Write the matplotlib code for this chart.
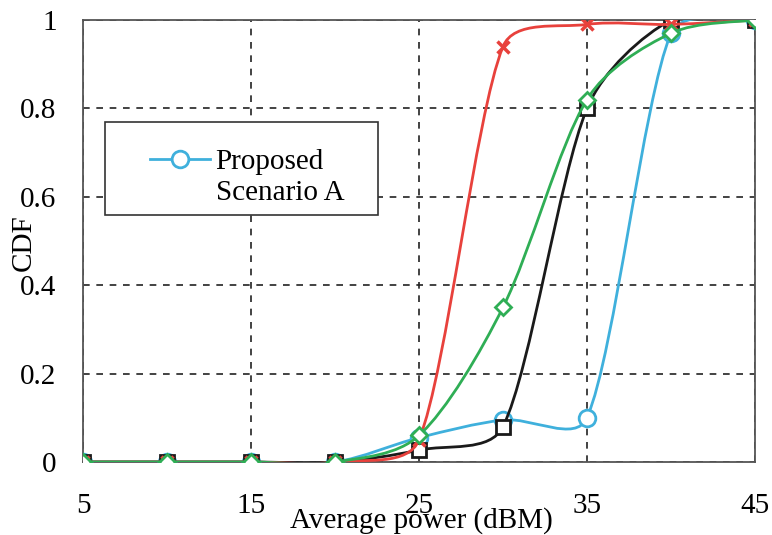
import numpy as np
import matplotlib
matplotlib.use("Agg")
import matplotlib.pyplot as plt
from matplotlib.path import Path
from matplotlib.patches import PathPatch, Rectangle
from matplotlib.lines import Line2D

plt.rcParams['font.family'] = ['Liberation Serif', 'DejaVu Serif']

x = [5, 10, 15, 20, 25, 30, 35, 40, 45]
blue = [0, 0, 0, 0, 0.055, 0.095, 0.10, 0.97, 1.0]
black = [0, 0, 0, 0, 0.027, 0.08, 0.80, 1.0, 1.0]
red = [0, 0, 0, 0, 0.05, 0.94, 0.99, 0.99, 1.0]
green = [0, 0, 0, 0, 0.06, 0.35, 0.82, 0.97, 1.0]

xticks = [5, 15, 25, 35, 45]
yticks = [0, 0.2, 0.4, 0.6, 0.8, 1]
ytick_labels = ['0', '0.2', '0.4', '0.6', '0.8', '1']

C_BLUE = '#3fb0dc'
C_RED = '#e8413c'
C_BLACK = '#1a1a1a'
C_GREEN = '#2fae55'

FS = 21

fig = plt.figure(figsize=(7.72, 5.35), dpi=100)
ax = fig.add_axes([83 / 772, 1 - 462 / 535, (755 - 83) / 772, (462 - 20) / 535])
ax.set_xlim(5, 45)
ax.set_ylim(0, 1)


def smooth_path(xs, ys):
    # Smoothed line: Catmull-Rom style Bezier segments (tension 1/6)
    # with control-arm length capped at a third of the segment length (display space).
    T = ax.transData
    pts = T.transform(np.column_stack([xs, ys]).astype(float))
    n = len(pts)
    verts = [pts[0]]
    codes = [Path.MOVETO]

    def arm(i, seglen):
        p0 = pts[i - 1] if i > 0 else pts[i]
        p2 = pts[i + 1] if i + 1 < n else pts[i]
        v = (p2 - p0) / 6.0
        L = np.hypot(*v)
        cap = seglen / 3
        if L > cap and L > 0:
            v = v * cap / L
        return v

    for i in range(n - 1):
        seglen = np.hypot(*(pts[i + 1] - pts[i]))
        c1 = pts[i] + arm(i, seglen)
        c2 = pts[i + 1] - arm(i + 1, seglen)
        verts += [c1, c2, pts[i + 1]]
        codes += [Path.CURVE4] * 3
    data_verts = T.inverted().transform(np.array(verts))
    return Path(data_verts, codes)


series = [
    (blue, C_BLUE, 'o', 12),
    (black, C_BLACK, 's', 9.5),
    (red, C_RED, 'x', 9),
    (green, C_GREEN, 'D', 8.5),
]
z = 3
for ys, col, mk, ms in series:
    ax.add_patch(PathPatch(smooth_path(x, ys), facecolor='none', edgecolor=col, lw=2, zorder=z))
    if mk == 'x':
        ax.plot(x, ys, linestyle='none', marker=mk, ms=ms, mew=2.5, color=col, zorder=z + 0.5)
    else:
        ax.plot(x, ys, linestyle='none', marker=mk, ms=ms, mew=2, mec=col, mfc='white', zorder=z + 0.5)
    z += 1

ax.set_xticks(xticks)
ax.set_yticks(yticks)
ax.set_yticklabels(ytick_labels)
ax.tick_params(length=0, labelsize=FS)
ax.tick_params(axis='x', pad=22.5)
ax.tick_params(axis='y', pad=19)
ax.grid(True, linestyle=(0, (4, 4)), color='#222222', lw=1.2)
ax.set_axisbelow(True)
for s in ax.spines.values():
    s.set_color('#555555')
    s.set_linewidth(1.3)

ax.set_xlabel('Average power (dBM)', fontsize=FS)
ax.xaxis.set_label_coords((421 - 83) / 672, (462 - 521) / 442)
ax.xaxis.label.set_va('center')
ax.set_ylabel('CDF', fontsize=FS)
ax.yaxis.set_label_coords((24 - 83) / 672, (462 - 243) / 442)
ax.yaxis.label.set_va('center')

# legend frame
frame = Rectangle(((105 - 83) / 672, (462 - 215) / 442), (378 - 105) / 672, (215 - 122) / 442,
                  transform=ax.transAxes, facecolor='white', edgecolor='#333333', lw=1.2, zorder=8)
ax.add_patch(frame)
handle = Line2D([], [], color=C_BLUE, lw=2, marker='o', ms=12, mew=2, mfc='white', mec=C_BLUE)
blank = Line2D([], [], alpha=0)
leg = ax.legend([handle, blank], ['Proposed', 'Scenario A'], loc='upper left',
                bbox_to_anchor=((150 - 83) / 672, (462 - 149) / 442),
                fontsize=FS, frameon=False, borderpad=0, labelspacing=0.15,
                handlelength=2.05, handletextpad=0.2, borderaxespad=0)
leg.set_zorder(9)

fig.savefig('out.png', dpi=100)
